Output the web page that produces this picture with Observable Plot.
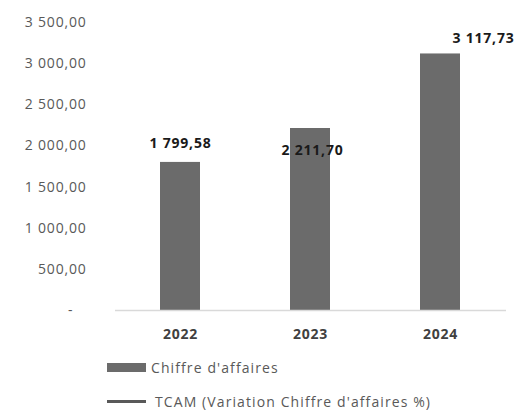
<!DOCTYPE html>
<html>
<head>
<meta charset="utf-8">
<script src="https://cdn.jsdelivr.net/npm/d3@7"></script>
<script src="https://cdn.jsdelivr.net/npm/@observablehq/plot@0.6"></script>
<style>
  body { margin: 0; background: #fff; font-family: "Open Sans", sans-serif; }
  #chart svg { display: block; }
  .legend { position: relative; height: 63px; font-family: "Open Sans", sans-serif; font-size: 14px; color: #595959; letter-spacing: 1.1px; }
  .item { position: absolute; left: 107px; display: flex; align-items: center; }
  .sw-bar { width: 39px; height: 9px; background: #6b6b6b; margin-right: 5px; }
  .sw-line { width: 39px; height: 3px; background: #595959; margin-right: 9px; }
</style>
</head>
<body>
<div id="chart"></div>
<div class="legend">
  <div class="item" style="top:8px"><span class="sw-bar"></span><span id="lg1"></span></div>
  <div class="item" style="top:42px"><span class="sw-line"></span><span id="lg2"></span></div>
</div>
<script>
const years = ["2022", "2023", "2024"];
const revenue = [1799.58, 2211.70, 3117.73];
const yTicks = [0, 500, 1000, 1500, 2000, 2500, 3000, 3500];
const seriesNames = ["Chiffre d'affaires", "TCAM (Variation Chiffre d'affaires %)"];

document.getElementById("lg1").textContent = seriesNames[0];
document.getElementById("lg2").textContent = seriesNames[1];

const fr = d3.formatLocale({decimal: ",", thousands: "\u00a0", grouping: [3], currency: ["", " €"]});
const fmt = fr.format(",.2f");
const data = years.map((y, i) => ({year: y, value: revenue[i], label: fmt(revenue[i])}));

const labelOffsets = {"2022": [0, -19], "2023": [2, 22], "2024": [43, -15]};

const chart = Plot.plot({
  width: 519,
  height: 350,
  marginTop: 22,
  marginBottom: 40,
  marginLeft: 115,
  marginRight: 13,
  style: {fontFamily: "'Open Sans', sans-serif", fontSize: "14px", color: "#595959", background: "#fff", letterSpacing: "0.8px"},
  x: {domain: years, paddingInner: 0.69, paddingOuter: 0.345, label: null},
  y: {domain: [0, 3500], label: null},
  marks: [
    Plot.barY(data, {x: "year", y: "value", fill: "#6b6b6b"}),
    Plot.ruleY([0], {stroke: "#d9d9d9", strokeWidth: 1.5}),
    Plot.axisY({ticks: yTicks, tickSize: 0, tickPadding: 29, label: null,
      tickFormat: d => d === 0 ? "-\u00a0\u00a0\u00a0" : fmt(d), fill: "#595959", fontSize: 14}),
    Plot.axisX({tickSize: 0, tickPadding: 19, label: null, fontWeight: "bold", fill: "#404040", fontSize: 14}),
    ...years.map(yr => Plot.text(data.filter(d => d.year === yr), {
      x: "year", y: "value", text: "label",
      dx: labelOffsets[yr][0], dy: labelOffsets[yr][1],
      fontWeight: "bold", fill: "#1a1a1a", fontSize: 14
    }))
  ]
});
document.getElementById("chart").appendChild(chart);
</script>
</body>
</html>
